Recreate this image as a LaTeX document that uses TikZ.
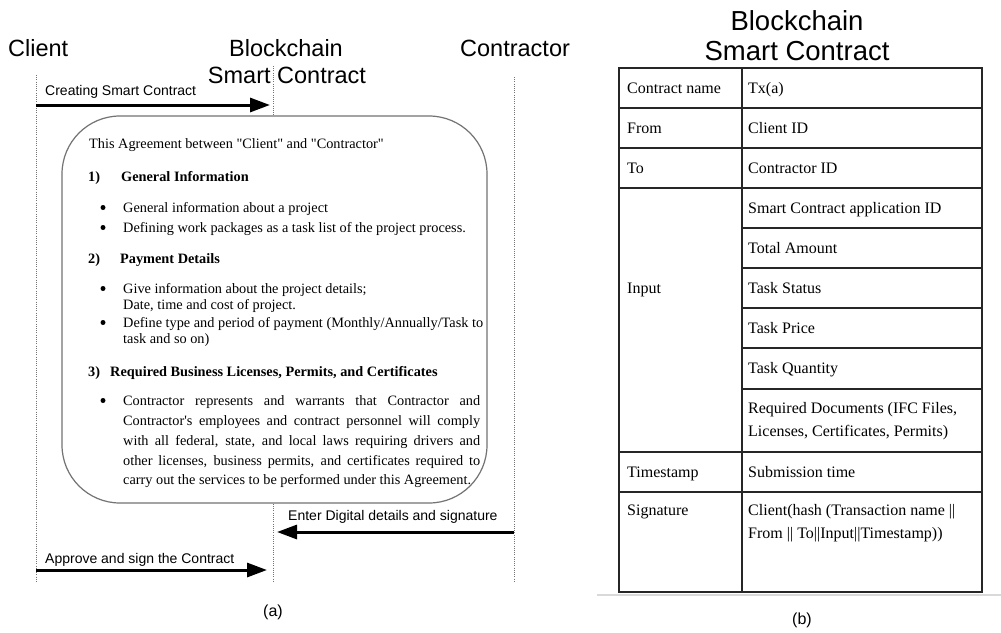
\documentclass[tikz,border=0pt]{standalone}
\usepackage{fontspec}
\setmainfont{Liberation Serif}[Ligatures=TeXOff]
\newfontfamily\arial{Liberation Sans}
\usetikzlibrary{arrows.meta}

\begin{document}
\begin{tikzpicture}[x=1pt,y=-1pt,
  lifeline/.style={draw=black!55, line width=0.9pt, dash pattern=on 1pt off 1.2pt},
  msg/.style={line width=3pt, -{Triangle[length=20pt,width=14pt]}},
  actor/.style={font=\arial\fontsize{23.5}{26}\selectfont, inner sep=0},
  title/.style={font=\arial\fontsize{27.5}{30}\selectfont, inner sep=0, anchor=base},
  msglabel/.style={font=\arial\fontsize{14}{16}\selectfont, anchor=base west, inner sep=0},
  body/.style={font=\fontsize{14.3}{16}\selectfont, anchor=base west, inner sep=0},
  head/.style={font=\fontsize{14.3}{16}\selectfont\bfseries, anchor=base west, inner sep=0},
  dot/.style={circle, fill=black, inner sep=0, minimum size=5pt},
  cell/.style={font=\fontsize{16}{18}\selectfont, anchor=base west, inner sep=0},
  grid/.style={line width=1.6pt, draw=black!85},
  caption/.style={font=\arial\fontsize{16}{18}\selectfont, anchor=base, inner sep=0},
  agreementbox/.style={draw=black!55, line width=1.2pt, fill=white, rounded corners=58pt,
    minimum width=425pt, minimum height=387pt, inner sep=0},
]
\useasboundingbox[fill=white] (0,0) rectangle (1001,632);

% ---------------- (a) sequence of messages ----------------
\node[actor, anchor=base west] (client) at (8,56.5) {Client};
\node[actor, anchor=base] (chain1) at (286,56.5) {Blockchain};
\node[actor, anchor=base] (chain2) at (287,83.5) {Smart Contract};
\node[actor, anchor=base west] (contractor) at (460,56.5) {Contractor};

% lifelines
\coordinate (cl-top) at (36,75);   \coordinate (cl-bot) at (36,583);
\coordinate (bc-top) at (273,66);  \coordinate (bc-bot) at (273,583);
\coordinate (ct-top) at (514,77);  \coordinate (ct-bot) at (514,583);
\draw[lifeline] (cl-top) -- (cl-bot);
\draw[lifeline] (bc-top) -- (bc-bot);
\draw[lifeline] (ct-top) -- (ct-bot);

% message end points
\coordinate (m1s) at (36,105);  \coordinate (m1e) at (270,105);
\coordinate (m2s) at (514,532); \coordinate (m2e) at (277,532);
\coordinate (m3s) at (36,570);  \coordinate (m3e) at (267,570);

\draw[msg] (m1s) -- (m1e);
\node[msglabel] (lab1) at (45,95) {Creating Smart Contract};
\draw[msg] (m2s) -- (m2e);
\node[msglabel] (lab2) at (288,520) {Enter Digital details and signature};
\draw[msg] (m3s) -- (m3e);
\node[msglabel] (lab3) at (45,563) {Approve and sign the Contract};

% agreement document
\node[agreementbox] (agreement) at (274.5,309.5) {};

\node[body] (intro) at (89,148) {This Agreement between "Client" and "Contractor"};

\node[head] (h1n) at (88,181) {1)};
\node[head] (h1) at (121,181) {General Information};
\node[dot] (b11) at (103,207.5) {};
\node[body] (t11) at (123,212) {General information about a project};
\node[dot] (b12) at (103,227.5) {};
\node[body] (t12) at (123,232) {Defining work packages as a task list of the project process.};

\node[head] (h2n) at (88,263) {2)};
\node[head] (h2) at (120,263) {Payment Details};
\node[dot] (b21) at (103,288.5) {};
\node[body] (t21) at (123,293) {Give information about the project details;};
\node[body] (t21b) at (123,309) {Date, time and cost of project.};
\node[dot] (b22) at (103,322.5) {};
\node[body] (t22) at (123,327) {Define type and period of payment (Monthly/Annually/Task to};
\node[body] (t22b) at (123,343) {task and so on)};

\node[head] (h3n) at (88,376) {3)};
\node[head] (h3) at (110,376) {Required Business Licenses, Permits, and Certificates};
\node[dot] (b31) at (103,400.5) {};
\node[body] (p1) at (123,405) {\makebox[357pt][s]{Contractor represents and warrants that Contractor and}};
\node[body] (p2) at (123,425) {\makebox[357pt][s]{Contractor's employees and contract personnel will comply}};
\node[body] (p3) at (123,445) {\makebox[357pt][s]{with all federal, state, and local laws requiring drivers and}};
\node[body] (p4) at (123,465) {\makebox[357pt][s]{other licenses, business permits, and certificates required to}};
\node[body] (p5) at (123,484) {carry out the services to be performed under this Agreement.};

\node[caption] (capa) at (273,616) {(a)};

% ---------------- (b) contract record ----------------
\node[title] (t1) at (797,30) {Blockchain};
\node[title] (t2) at (797,60) {Smart Contract};

\draw[grid] (619,68) rectangle (982,592);
\draw[grid] (742,68) -- (742,592);
\foreach \y in {108,148,188,452,492} \draw[grid] (619,\y) -- (982,\y);
\foreach \y in {228,268,308,348,389} \draw[grid] (742,\y) -- (982,\y);
\draw[black!15, line width=2pt] (597,594.5) -- (1001,594.5);

\node[cell] (k1) at (627,93.5) {Contract name};
\node[cell] (v1) at (748,93.5) {Tx(a)};
\node[cell] (k2) at (627,133.5) {From};
\node[cell] (v2) at (748,133.5) {Client ID};
\node[cell] (k3) at (627,173.5) {To};
\node[cell] (v3) at (748,173.5) {Contractor ID};
\node[cell] (k4) at (627,293.5) {Input};
\node[cell] (v4a) at (748,213.5) {Smart Contract application ID};
\node[cell] (v4b) at (748,253.5) {Total Amount};
\node[cell] (v4c) at (748,293.5) {Task Status};
\node[cell] (v4d) at (748,333.5) {Task Price};
\node[cell] (v4e) at (748,373.5) {Task Quantity};
\node[cell] (v4f) at (748,413.5) {Required Documents (IFC Files,};
\node[cell] (v4g) at (748,436.5) {Licenses, Certificates, Permits)};
\node[cell] (k5) at (627,477.5) {Timestamp};
\node[cell] (v5) at (748,477.5) {Submission time};
\node[cell] (k6) at (627,515.5) {Signature};
\node[cell] (v6a) at (748,515.5) {Client(hash (Transaction name ||};
\node[cell] (v6b) at (748,538.5) {From || To||Input||Timestamp))};

\node[caption] (capb) at (802,624) {(b)};
\end{tikzpicture}
\end{document}
